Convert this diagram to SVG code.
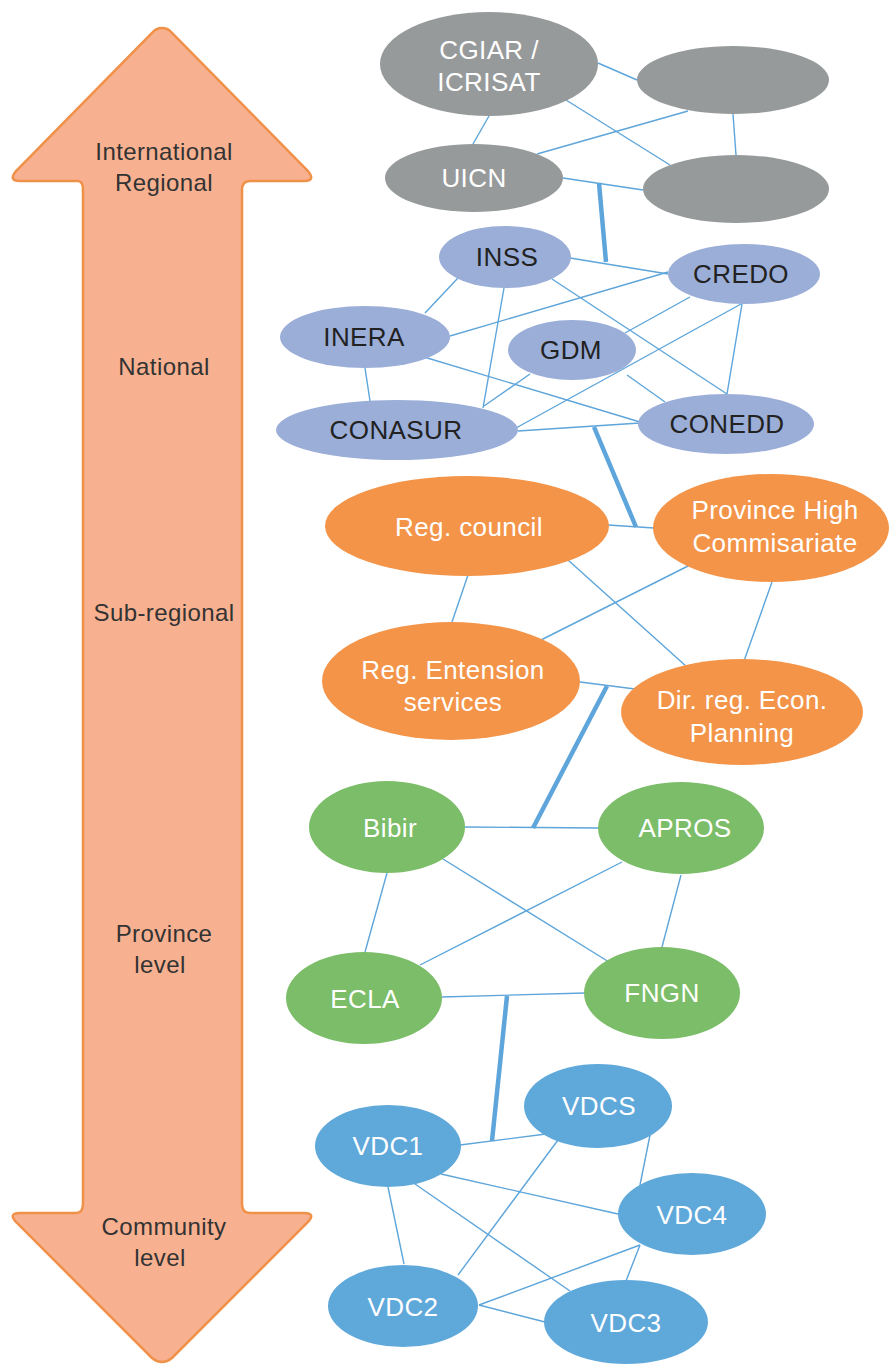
<svg xmlns="http://www.w3.org/2000/svg" width="889" height="1365" viewBox="0 0 889 1365">
<style>
.lvl{font-family:"Liberation Sans",Arial,sans-serif;font-size:24px;letter-spacing:0.4px;fill:#333;text-anchor:middle}
.nt{font-family:"Liberation Sans",Arial,sans-serif;font-size:26px;letter-spacing:0.4px;fill:#fff;text-anchor:middle}
.dk{fill:#222}
.e{stroke:#5DA5DA;stroke-width:1.4;fill:none}
.t{stroke:#5DA5DA;stroke-width:4.5;fill:none}
.g{fill:#979A9B}
.p{fill:#9BAED8}
.o{fill:#F39449}
.gr{fill:#7BBD68}
.b{fill:#5FA8DA}
</style>
<g id="arrow">
<path d="M162,28 Q156,28 152,33 L16,171 Q8,181 20,181 L78,181 Q83,181 83,190 L83,1204 Q83,1213 76,1213 L20,1213 Q8,1213 16,1222 L152,1358 Q162,1366 172,1358 L308,1222 Q316,1213 304,1213 L250,1213 Q242,1213 242,1204 L242,190 Q242,181 250,181 L304,181 Q316,181 308,171 L172,33 Q168,28 162,28 Z" fill="#F8B190" stroke="#F0914A" stroke-width="2.5"/>
<text class="lvl" x="164" y="160">International</text>
<text class="lvl" x="164" y="191">Regional</text>
<text class="lvl" x="164" y="375">National</text>
<text class="lvl" x="164" y="621">Sub-regional</text>
<text class="lvl" x="164" y="942">Province</text>
<text class="lvl" x="160" y="973">level</text>
<text class="lvl" x="164" y="1235">Community</text>
<text class="lvl" x="160" y="1266">level</text>
</g>
<g id="connectors">
<line class="e" x1="598" y1="63" x2="637" y2="80"/>
<line class="e" x1="566" y1="100" x2="670" y2="165"/>
<line class="e" x1="489" y1="116" x2="473" y2="144"/>
<line class="e" x1="537" y1="154" x2="688" y2="111"/>
<line class="e" x1="733" y1="114" x2="736" y2="155"/>
<line class="e" x1="563" y1="178" x2="643" y2="190"/>
<line class="t" x1="599" y1="183" x2="606" y2="262"/>
<line class="e" x1="570" y1="258" x2="668" y2="274"/>
<line class="e" x1="458" y1="278" x2="425" y2="313"/>
<line class="e" x1="504" y1="288" x2="483" y2="408"/>
<line class="e" x1="552" y1="279" x2="727" y2="394"/>
<line class="e" x1="450" y1="336" x2="668" y2="272"/>
<line class="e" x1="365" y1="368" x2="370" y2="401"/>
<line class="e" x1="424" y1="357" x2="640" y2="422"/>
<line class="e" x1="625" y1="333" x2="690" y2="297"/>
<line class="e" x1="530" y1="374" x2="484" y2="406"/>
<line class="e" x1="627" y1="375" x2="665" y2="402"/>
<line class="e" x1="741" y1="304" x2="516" y2="428"/>
<line class="e" x1="742" y1="304" x2="727" y2="394"/>
<line class="e" x1="518" y1="431" x2="640" y2="423"/>
<line class="t" x1="594" y1="427" x2="636" y2="527"/>
<line class="e" x1="608" y1="525" x2="654" y2="528"/>
<line class="e" x1="468" y1="575" x2="452" y2="622"/>
<line class="e" x1="568" y1="560" x2="687" y2="667"/>
<line class="e" x1="688" y1="566" x2="541" y2="640"/>
<line class="e" x1="772" y1="582" x2="744" y2="661"/>
<line class="e" x1="580" y1="682" x2="635" y2="689"/>
<line class="t" x1="607" y1="686" x2="533" y2="828"/>
<line class="e" x1="465" y1="827" x2="598" y2="828"/>
<line class="e" x1="387" y1="873" x2="365" y2="952"/>
<line class="e" x1="443" y1="859" x2="609" y2="962"/>
<line class="e" x1="622" y1="862" x2="420" y2="965"/>
<line class="e" x1="681" y1="875" x2="662" y2="947"/>
<line class="e" x1="442" y1="997" x2="585" y2="993"/>
<line class="t" x1="507" y1="996" x2="492" y2="1141"/>
<line class="e" x1="460" y1="1145" x2="546" y2="1134"/>
<line class="e" x1="441" y1="1174" x2="618" y2="1214"/>
<line class="e" x1="415" y1="1184" x2="570" y2="1291"/>
<line class="e" x1="388" y1="1187" x2="404" y2="1264"/>
<line class="e" x1="558" y1="1140" x2="458" y2="1275"/>
<line class="e" x1="650" y1="1135" x2="640" y2="1185"/>
<line class="e" x1="640" y1="1245" x2="479" y2="1305"/>
<line class="e" x1="640" y1="1245" x2="626" y2="1281"/>
<line class="e" x1="479" y1="1305" x2="545" y2="1322"/>
</g>
<g id="cgiar"><ellipse class="g" cx="489" cy="64" rx="109" ry="52"/><text class="nt" x="489" y="59">CGIAR /</text><text class="nt" x="489" y="91">ICRISAT</text></g>
<g id="gray2"><ellipse class="g" cx="733" cy="80" rx="96" ry="34"/></g>
<g id="uicn"><ellipse class="g" cx="474" cy="178" rx="89" ry="34"/><text class="nt" x="474" y="187">UICN</text></g>
<g id="gray4"><ellipse class="g" cx="736" cy="189" rx="93" ry="34"/></g>
<g id="inss"><ellipse class="p" cx="505" cy="257" rx="66" ry="31"/><text class="nt dk" x="507" y="266">INSS</text></g>
<g id="credo"><ellipse class="p" cx="744" cy="274" rx="76" ry="30"/><text class="nt dk" x="741" y="283">CREDO</text></g>
<g id="inera"><ellipse class="p" cx="365" cy="337" rx="85" ry="31"/><text class="nt dk" x="364" y="346">INERA</text></g>
<g id="gdm"><ellipse class="p" cx="572" cy="350" rx="64" ry="30"/><text class="nt dk" x="571" y="359">GDM</text></g>
<g id="conasur"><ellipse class="p" cx="397" cy="430" rx="121" ry="30"/><text class="nt dk" x="396" y="439">CONASUR</text></g>
<g id="conedd"><ellipse class="p" cx="726" cy="424" rx="88" ry="30"/><text class="nt dk" x="727" y="433">CONEDD</text></g>
<g id="regcouncil"><ellipse class="o" cx="467" cy="526" rx="142" ry="50"/><text class="nt" x="469" y="536">Reg. council</text></g>
<g id="phc"><ellipse class="o" cx="771" cy="528" rx="118" ry="54"/><text class="nt" x="775" y="519">Province High</text><text class="nt" x="775" y="552">Commisariate</text></g>
<g id="regext"><ellipse class="o" cx="451" cy="681" rx="129" ry="59"/><text class="nt" x="453" y="679">Reg. Entension</text><text class="nt" x="453" y="711">services</text></g>
<g id="dirreg"><ellipse class="o" cx="742" cy="712" rx="121" ry="53"/><text class="nt" x="742" y="709">Dir. reg. Econ.</text><text class="nt" x="742" y="742">Planning</text></g>
<g id="bibir"><ellipse class="gr" cx="387" cy="827" rx="78" ry="46"/><text class="nt" x="390" y="837">Bibir</text></g>
<g id="apros"><ellipse class="gr" cx="681" cy="828" rx="83" ry="46"/><text class="nt" x="685" y="837">APROS</text></g>
<g id="ecla"><ellipse class="gr" cx="364" cy="998" rx="78" ry="46"/><text class="nt" x="365" y="1008">ECLA</text></g>
<g id="fngn"><ellipse class="gr" cx="662" cy="993" rx="78" ry="46"/><text class="nt" x="662" y="1002">FNGN</text></g>
<g id="vdcs"><ellipse class="b" cx="598" cy="1106" rx="74" ry="42"/><text class="nt" x="599" y="1115">VDCS</text></g>
<g id="vdc1"><ellipse class="b" cx="388" cy="1146" rx="73" ry="41"/><text class="nt" x="388" y="1155">VDC1</text></g>
<g id="vdc4"><ellipse class="b" cx="692" cy="1214" rx="74" ry="41"/><text class="nt" x="692" y="1224">VDC4</text></g>
<g id="vdc2"><ellipse class="b" cx="403" cy="1306" rx="75" ry="41"/><text class="nt" x="403" y="1316">VDC2</text></g>
<g id="vdc3"><ellipse class="b" cx="626" cy="1322" rx="82" ry="42"/><text class="nt" x="626" y="1332">VDC3</text></g>
</svg>
